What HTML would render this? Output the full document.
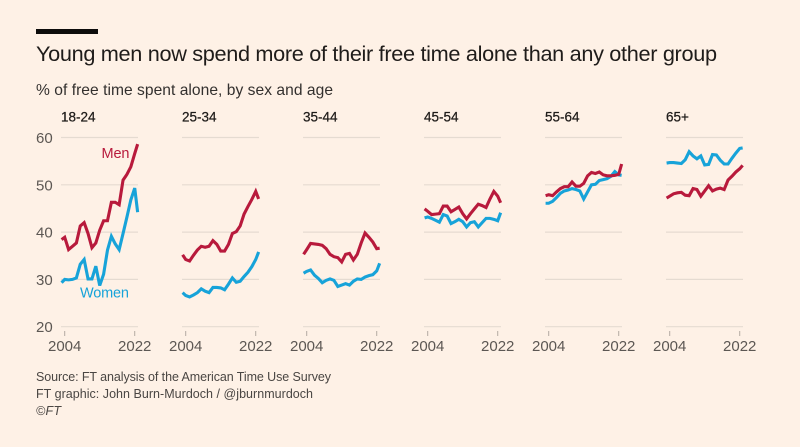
<!DOCTYPE html>
<html lang="en">
<head>
<meta charset="utf-8">
<title>Young men now spend more of their free time alone</title>
<style>
html,body{margin:0;padding:0;background:#fef1e6;}
svg{display:block;font-family:"Liberation Sans",sans-serif;}
</style>
</head>
<body>
<svg id="chart" width="800" height="447" viewBox="0 0 800 447" xmlns="http://www.w3.org/2000/svg">
  <rect x="0" y="0" width="800" height="447" fill="#fef1e6"/>
  <rect x="36" y="29" width="62" height="5" fill="#0d0c0b"/>
  <text x="36" y="61" font-size="21.7" fill="#1f1c1a" textLength="681" lengthAdjust="spacing">Young men now spend more of their free time alone than any other group</text>
  <text x="36" y="95" font-size="15.6" fill="#33302e" textLength="297" lengthAdjust="spacing">% of free time spent alone, by sex and age</text>
  <g id="plots"></g>
  <text x="36" y="381" font-size="12.5" fill="#4a4643" textLength="295" lengthAdjust="spacing">Source: FT analysis of the American Time Use Survey</text>
  <text x="36" y="398" font-size="12.5" fill="#4a4643" textLength="277" lengthAdjust="spacing">FT graphic: John Burn-Murdoch / @jburnmurdoch</text>
  <text x="36" y="415" font-size="12.5" font-style="italic" fill="#4a4643" textLength="25" lengthAdjust="spacing">©FT</text>
</svg>
<script>
const ageGroups = ["18-24", "25-34", "35-44", "45-54", "55-64", "65+"];
const years = [2003.2, 2004, 2005, 2006, 2007, 2008, 2009, 2010, 2011, 2012, 2013, 2014, 2015, 2016, 2017, 2018, 2019, 2020, 2021, 2022, 2022.75];
const yTicks = [20, 30, 40, 50, 60];
const xTicks = [2004, 2022];

const men1824 = [38.4, 38.9, 36.3, 37, 37.7, 41.3, 42, 39.7, 36.7, 37.7, 40.4, 42.4, 42.4, 46.3, 46.3, 45.8, 51, 52.2, 53.8, 56.6, 58.6];
const men2534 = [35.2, 34.2, 33.9, 35.1, 36.2, 37, 36.8, 37, 38.2, 37.4, 36, 36, 37.4, 39.7, 40.1, 41.3, 43.8, 45.4, 46.9, 48.6, 47];
const men3544 = [35.3, 36.3, 37.6, 37.5, 37.4, 37.2, 36.5, 35.3, 34.8, 34.6, 33.7, 35.3, 35.5, 34.1, 35.3, 37.7, 39.8, 38.9, 37.9, 36.5, 36.6];
const men4554 = [44.9, 44.4, 43.7, 43.8, 43.9, 45.5, 45.5, 44.3, 44.8, 45.3, 43.9, 42.8, 43.9, 44.9, 45.9, 45.6, 45.2, 47, 48.6, 47.6, 46.2];
const men5564 = [47.7, 47.9, 47.7, 48.5, 49.2, 49.6, 49.6, 50.6, 49.7, 49.7, 50.3, 51.9, 52.6, 52.4, 52.7, 52.1, 51.9, 51.9, 52, 52.2, 54.4];
const men65 = [47.2, 47.6, 48.1, 48.3, 48.4, 47.8, 47.7, 49.2, 49, 47.6, 48.7, 49.8, 48.7, 49.1, 49.3, 49, 51, 51.8, 52.7, 53.4, 54.1];

const women1824 = [29.3, 30, 29.9, 30, 30.3, 33.2, 34.2, 30.1, 30.1, 32.8, 28.7, 31.1, 36.2, 39.1, 37.5, 36.3, 39.7, 43.2, 46.8, 49.3, 44.2];
const women2534 = [27.2, 26.6, 26.3, 26.7, 27.2, 28, 27.5, 27.2, 28.3, 28.3, 28.2, 27.8, 29, 30.3, 29.4, 29.6, 30.6, 31.5, 32.7, 34.2, 35.8];
const women3544 = [31.3, 31.7, 32, 30.9, 30.2, 29.3, 29.8, 30.1, 29.8, 28.5, 28.8, 29.1, 28.8, 29.6, 30.1, 30, 30.5, 30.8, 31, 31.8, 33.4];
const women4554 = [43, 43.2, 42.9, 42.5, 42.1, 43.7, 43.4, 41.8, 42.2, 42.7, 42.2, 41.1, 42, 42.2, 41.1, 42, 42.9, 42.9, 42.7, 42.4, 44.1];
const women5564 = [46.1, 46.1, 46.5, 47.3, 48.2, 48.7, 48.9, 49.2, 49, 48.7, 47, 48.5, 50, 50.1, 50.9, 51.1, 51.3, 51.8, 52.8, 52.1, 52];
const women65 = [54.6, 54.7, 54.7, 54.6, 54.5, 55.3, 57, 56.1, 55.5, 56.1, 54.2, 54.3, 56.4, 56.3, 55.2, 54.4, 54.4, 55.6, 56.7, 57.7, 57.8];

const menSeries = [men1824, men2534, men3544, men4554, men5564, men65];
const womenSeries = [women1824, women2534, women3544, women4554, women5564, women65];

const NS = "http://www.w3.org/2000/svg";
const plots = document.getElementById("plots");
const RED = "#b81a3c";
const BLUE = "#17a3d9";
const GRID = "#e5dbd1";
const TICK_TEXT = "#5c5753";

function yScale(v) { return 326.7 - (v - 20) * 4.73; }
function panelOrigin(i) { return 64.7 + i * 121; }
function xScale(i, year) { return panelOrigin(i) + (year - 2004) * 3.89; }

function make(tag, parent) {
  const el = document.createElementNS(NS, tag);
  parent.appendChild(el);
  return el;
}
function setAttrs(el, attrs) {
  Object.keys(attrs).forEach(function (k) { el.setAttribute(k, attrs[k]); });
}

ageGroups.forEach(function (group, i) {
  const g = make("g", plots);
  
  

  const title = make("text", g);
  
  
  setAttrs(title, { x: panelOrigin(i) - 3.7, y: 121.5, "font-size": 13.5, fill: "#1f1c1a", stroke: "#1f1c1a", "stroke-width": 0.25 });
  title.textContent = group;

  yTicks.forEach(function (t) {
    const line = make("line", g);
    
    
    setAttrs(line, { x1: panelOrigin(i) - 3.7, x2: panelOrigin(i) + 73.3, y1: yScale(t), y2: yScale(t), stroke: GRID, "stroke-width": 1.2 });
    if (i === 0) {
      const label = make("text", g);
      
      
      setAttrs(label, { x: 36, y: yScale(t) + 5.5, "font-size": 15, fill: TICK_TEXT });
      label.textContent = t;
    }
  });

  xTicks.forEach(function (yr) {
    const tick = make("line", g);
    
    
    setAttrs(tick, { x1: xScale(i, yr), x2: xScale(i, yr), y1: 331, y2: 336, stroke: "#b3aaa2", "stroke-width": 1 });
    const label = make("text", g);
    
    
    setAttrs(label, { x: xScale(i, yr), y: 351, "font-size": 15, "text-anchor": "middle", fill: TICK_TEXT });
    label.textContent = yr;
  });

  function points(values) {
    return values.map(function (v, k) {
      return xScale(i, years[k]).toFixed(2) + "," + yScale(v).toFixed(2);
    }).join(" ");
  }

  const womenLine = make("polyline", g);
  
  
  setAttrs(womenLine, { points: points(womenSeries[i]), fill: "none", stroke: BLUE, "stroke-width": 3.1, "stroke-linejoin": "miter", "stroke-miterlimit": 3 });

  const menLine = make("polyline", g);
  
  
  setAttrs(menLine, { points: points(menSeries[i]), fill: "none", stroke: RED, "stroke-width": 3.1, "stroke-linejoin": "miter", "stroke-miterlimit": 3 });
});

const menLabel = make("text", plots);


setAttrs(menLabel, { x: 101.5, y: 158, "font-size": 14.5, fill: RED, textLength: 28, lengthAdjust: "spacing" });
menLabel.textContent = "Men";

const womenLabel = make("text", plots);


setAttrs(womenLabel, { x: 80, y: 297.5, "font-size": 14.5, fill: BLUE, textLength: 49, lengthAdjust: "spacing" });
womenLabel.textContent = "Women";
</script>
</body>
</html>
